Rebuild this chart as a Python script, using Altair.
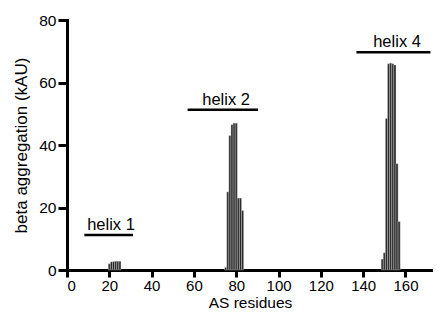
import altair as alt
import pandas as pd

# Bar data (residue, beta aggregation in kAU)
h1_res = [20, 21, 22, 23, 24, 25]
h1_val = [2.0, 2.6, 2.7, 2.8, 2.8, 2.8]
h2_res = [75, 76, 77, 78, 79, 80, 81, 82, 83]
h2_val = [0.8, 25, 43, 46.5, 47, 47, 23, 23, 19]
h4_res = [149, 150, 151, 152, 153, 154, 155, 156, 157]
h4_val = [3.5, 5.5, 48.5, 66, 66.2, 66, 65.6, 34, 15.5]

# Helix annotations
helix_names = ["helix 1", "helix 2", "helix 4"]
helix_start = [8.2, 57, 136.8]
helix_end = [31.2, 90.3, 171.8]
helix_level = [11.2, 51.3, 69.7]
helix_text_x = [20.8, 75.2, 156]

res = h1_res + h2_res + h4_res
val = h1_val + h2_val + h4_val
bars = pd.DataFrame({"res": res, "val": val})
bars["x0"] = bars["res"] - 0.5
bars["x1"] = bars["res"] + 0.5
bars["base"] = 0.0

hel = pd.DataFrame({"name": helix_names, "x0": helix_start, "x1": helix_end,
                    "y": helix_level, "tx": helix_text_x})

FONT = "Liberation Sans"
xscale = alt.Scale(domain=[0, 173], nice=False, zero=True)
yscale = alt.Scale(domain=[0, 80], nice=False)

xaxis = alt.Axis(values=list(range(0, 161, 20)), title="AS residues", grid=False,
                 domainWidth=3, domainColor="black", tickWidth=3, tickColor="black",
                 tickSize=7, labelFontSize=15, labelFont=FONT, labelColor="black",
                 titleFont=FONT, titleFontSize=15.5, titleFontWeight="normal",
                 titleColor="black", labelPadding=1, titleY=37.5,
                 titleBaseline="alphabetic", domainCap="square")
yaxis = alt.Axis(values=[0, 20, 40, 60, 80], title="beta aggregation (kAU)", grid=False,
                 domainWidth=3, domainColor="black", tickWidth=3, tickColor="black",
                 tickSize=9, labelFontSize=15.5, labelFont=FONT, labelColor="black",
                 titleFont=FONT, titleFontSize=17, titleFontWeight="normal",
                 titleColor="black", labelPadding=2, titlePadding=8, domainCap="square")

bar_layer = alt.Chart(bars).mark_bar(color="#2b2b2b", stroke="#dddddd",
                                     strokeWidth=0.35).encode(
    x=alt.X("x0:Q", scale=xscale, axis=xaxis),
    x2="x1:Q",
    y=alt.Y("val:Q", scale=yscale, axis=yaxis),
    y2="base:Q",
)

rule_layer = alt.Chart(hel).mark_rule(color="black", strokeWidth=2.5).encode(
    x=alt.X("x0:Q", scale=xscale), x2="x1:Q", y=alt.Y("y:Q", scale=yscale)
)

text_layer = alt.Chart(hel).mark_text(font=FONT, fontSize=16.5, color="black",
                                      baseline="alphabetic", align="center", dy=-5).encode(
    x=alt.X("tx:Q", scale=xscale), y=alt.Y("y:Q", scale=yscale), text="name:N"
)

chart = alt.layer(bar_layer, rule_layer, text_layer).properties(
    width=366, height=250,
    autosize=alt.AutoSizeParams(type="none"),
    padding={"left": 59, "top": 12, "right": 0, "bottom": 41},
).configure_view(stroke=None)

chart.save("out.html", embed_options={"renderer": "svg", "actions": False})
